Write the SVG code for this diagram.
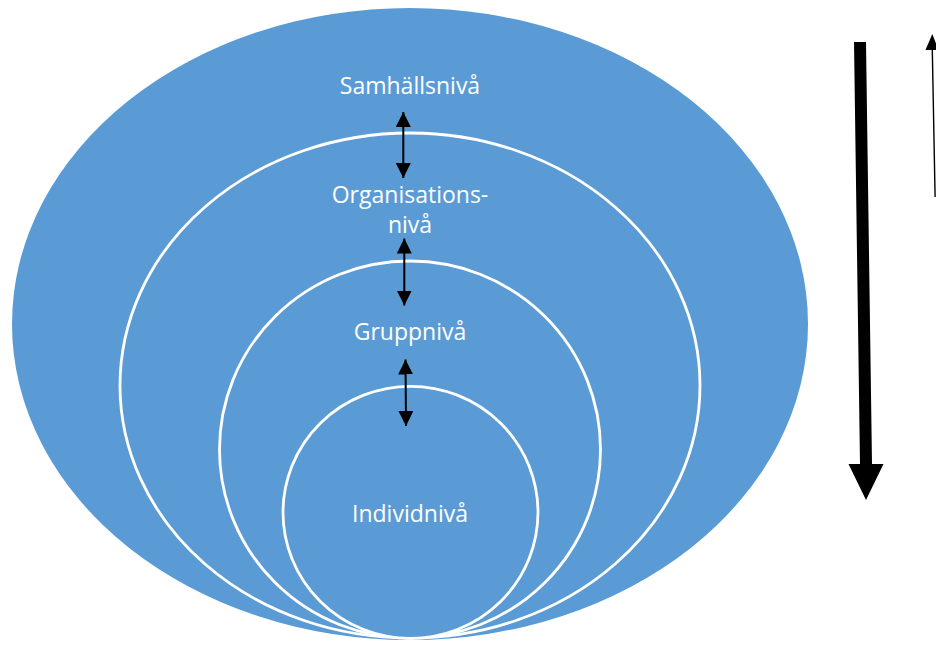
<svg xmlns="http://www.w3.org/2000/svg" width="936" height="646" viewBox="0 0 936 646">
  <style>
    .level { fill: #5B9BD5; stroke: #FFFFFF; stroke-width: 2.8; }
    .outer { fill: #5B9BD5; stroke: none; }
    .label { fill: #FFFFFF; font-family: "Open Sans", "DejaVu Sans", sans-serif; font-size: 23px; text-anchor: middle; }
    .link { stroke: #000000; stroke-width: 2; fill: none; marker-start: url(#head); marker-end: url(#head); }
  </style>
  <defs>
    <marker id="head" viewBox="0 0 10 10" refX="10" refY="5" markerWidth="7.5" markerHeight="7.5" markerUnits="strokeWidth" orient="auto-start-reverse">
      <path d="M0,0 L10,5 L0,10 Z" fill="#000000"/>
    </marker>
  </defs>

  <!-- nested levels, outermost first -->
  <g id="samhallsniva">
    <ellipse class="outer" cx="410" cy="324" rx="398" ry="316"/>
    <text class="label" x="410" y="94">Samhällsnivå</text>
  </g>
  <g id="organisationsniva">
    <ellipse class="level" cx="410" cy="385.5" rx="290" ry="252.5"/>
    <text class="label" x="410" y="203">Organisations-</text>
    <text class="label" x="410" y="233">nivå</text>
  </g>
  <g id="gruppniva">
    <ellipse class="level" cx="410" cy="449.5" rx="190.5" ry="188.5"/>
    <text class="label" x="410" y="340">Gruppnivå</text>
  </g>
  <g id="individniva">
    <ellipse class="level" cx="410.5" cy="512.3" rx="127.5" ry="126"/>
    <text class="label" x="410" y="522">Individnivå</text>
  </g>

  <!-- two-way links between neighbouring levels, and the side arrows -->
  <g id="connectors">
    <line class="link" x1="403.3" y1="112" x2="403.3" y2="178"/>
    <line class="link" x1="404.3" y1="238.5" x2="404.3" y2="305.5"/>
    <line class="link" x1="405.5" y1="359.5" x2="406" y2="426"/>
    <!-- thick downward arrow -->
    <polygon points="854,42 866,42 872,464 883.5,464 866,500 848.5,464 860,464" fill="#000000"/>
    <!-- thin upward arrow -->
    <polygon points="932.3,34 938.5,50 933,50 935.8,197 934.4,197 931.6,50 925.5,50" fill="#000000"/>
  </g>
</svg>
